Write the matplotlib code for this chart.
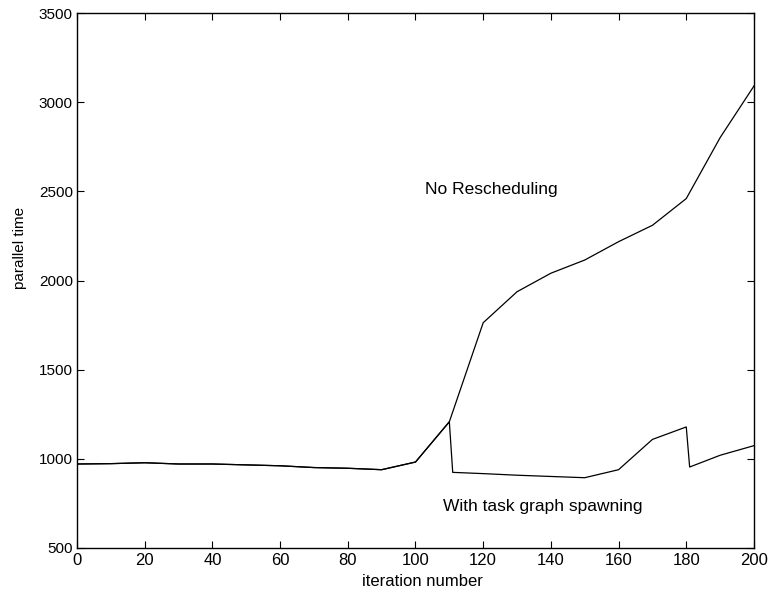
import numpy as np
import matplotlib
matplotlib.use("Agg")
import matplotlib.pyplot as plt

plt.rcParams['font.family'] = ['Liberation Sans', 'DejaVu Sans']

# shared part of both runs (iterations 0-110)
iter_common = [0, 10, 20, 30, 40, 50, 60, 70, 80, 90, 100, 110]
time_common = [970, 972, 977, 970, 970, 965, 960, 950, 946, 938, 981, 1207]

# no rescheduling, after iteration 110
iter_norsch = [120, 130, 140, 150, 160, 170, 180, 190, 200]
time_norsch = [1763, 1937, 2041, 2115, 2218, 2310, 2460, 2802, 3092]

# with task graph spawning, after iteration 110
iter_spawn = [111, 120, 130, 140, 150, 160, 170, 180, 181, 190, 200]
time_spawn = [923, 916, 907, 900, 893, 938, 1108, 1178, 953, 1019, 1073]

fig = plt.figure(figsize=(7.71, 5.92), dpi=100)
ax = fig.add_axes([0.0999, 0.0748, 0.878, 0.9027])

ax.plot(iter_common + iter_norsch, time_common + time_norsch, color="black", lw=0.9)
ax.plot(iter_common + iter_spawn, time_common + time_spawn, color="black", lw=0.9)

ax.text(102.8, 2510, "No Rescheduling", fontsize=12.5, va="center", ha="left")
ax.text(108.2, 730, "With task graph spawning", fontsize=12.5, va="center", ha="left")

ax.set_xlim(0, 200)
ax.set_ylim(500, 3500)
ax.set_xticks(np.arange(0, 201, 20))
ax.set_yticks(np.arange(500, 3501, 500))
ax.tick_params(direction="in", top=True, right=True, length=5, width=0.8, pad=3)
ax.tick_params(axis="x", labelsize=12, pad=4)
ax.tick_params(axis="y", labelsize=11)
for s in ax.spines.values():
    s.set_linewidth(1.0)
ax.set_xlabel("iteration number", fontsize=12)
ax.set_ylabel("parallel time", fontsize=11)
ax.xaxis.set_label_coords(0.51, -0.049)
ax.yaxis.set_label_coords(-0.074, 0.561)

fig.savefig("out.png", dpi=100)
